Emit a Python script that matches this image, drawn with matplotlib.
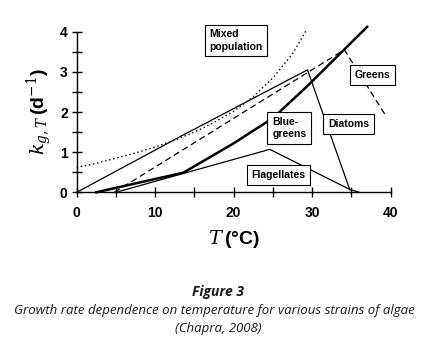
import matplotlib.pyplot as plt

plt.rcParams['mathtext.fontset'] = 'dejavuserif'

# curves (T in deg C, k in 1/d)
mixed_T = [0, 2.5, 5, 7.5, 10, 12.5, 15, 17.5, 20, 22.5, 25, 27.5, 29.3]
mixed_k = [0.62, 0.72, 0.85, 0.98, 1.13, 1.30, 1.50, 1.74, 2.02, 2.38, 2.85, 3.45, 4.05]

diatoms_T = [0, 13.5, 29.4, 34.8]
diatoms_k = [0, 1.42, 3.05, 0.06]

greens_T = [4.8, 29.3, 34.1, 39.4]
greens_k = [0, 2.97, 3.55, 1.9]

blue_T = [2.5, 7, 13.6, 20, 25, 29.3, 34, 37]
blue_k = [0, 0.2, 0.49, 1.22, 1.85, 2.63, 3.54, 4.12]

flag_T = [5, 13.6, 24.6, 34.8, 36]
flag_k = [0, 0.47, 1.07, 0.07, 0]

labels = ['Mixed\npopulation', 'Greens', 'Blue-\ngreens', 'Diatoms', 'Flagellates']
label_T = [16.9, 35.4, 24.9, 32.0, 22.3]
label_k = [3.78, 2.92, 1.60, 1.70, 0.43]

fig = plt.figure(figsize=(4.43, 3.42), dpi=100)
ax = fig.add_axes([0.1731, 0.4377, 0.7088, 0.4696])

ax.plot(mixed_T, mixed_k, color='black', lw=1.0, ls=(0, (1, 2)), clip_on=False)
ax.plot(diatoms_T, diatoms_k, color='black', lw=0.9, clip_on=False)
ax.plot(greens_T, greens_k, color='black', lw=0.9, ls=(0, (5, 3)), clip_on=False)
ax.plot(blue_T, blue_k, color='black', lw=1.8, clip_on=False)
ax.plot(flag_T, flag_k, color='black', lw=0.9, clip_on=False)

for txt, t, k in zip(labels, label_T, label_k):
    ax.text(t, k, txt, fontsize=7.5, fontweight='bold', family='Liberation Sans',
            ha='left', va='center', linespacing=1.3,
            bbox=dict(boxstyle='square,pad=0.45', fc='white', ec='black', lw=0.8))

ax.set_xlim(0, 40)
ax.set_ylim(0, 4)
for s in ['top', 'right']:
    ax.spines[s].set_visible(False)
ax.spines['left'].set_linewidth(1.0)
ax.spines['bottom'].set_linewidth(1.0)

ax.set_xticks([0, 10, 20, 30, 40])
ax.set_xticks([5, 15, 25, 35], minor=True)
ax.set_yticks([0, 1, 2, 3, 4])
ax.set_yticks([0.5, 1.5, 2.5, 3.5], minor=True)
ax.tick_params(which='both', direction='inout', length=7, width=1.0)
ax.tick_params(axis='x', pad=6)
ax.tick_params(axis='y', pad=3)
for lab in ax.get_xticklabels() + ax.get_yticklabels():
    lab.set_fontfamily('Liberation Sans')
    lab.set_fontweight('bold')
    lab.set_fontsize(10)

ax.set_xlabel(r'$T\,$(°C)', fontsize=14, fontfamily='Liberation Sans',
              fontweight='bold', labelpad=6)
ax.set_ylabel(r'$k_{g,T}\,$(d$^{-1}$)', fontsize=14, fontfamily='Liberation Sans',
              fontweight='bold', labelpad=4)

fig.text(0.493, 0.135, 'Figure 3', ha='center', fontsize=10, fontweight='bold',
         style='italic', family='Open Sans', color='#1a1a1a')
fig.text(0.484, 0.082, 'Growth rate dependence on temperature for various strains of algae',
         ha='center', fontsize=9.5, style='italic', family='Open Sans', color='#1a1a1a')
fig.text(0.493, 0.028, '(Chapra, 2008)', ha='center', fontsize=9.5, style='italic',
         family='Open Sans', color='#1a1a1a')

fig.savefig('out.png', dpi=100)
